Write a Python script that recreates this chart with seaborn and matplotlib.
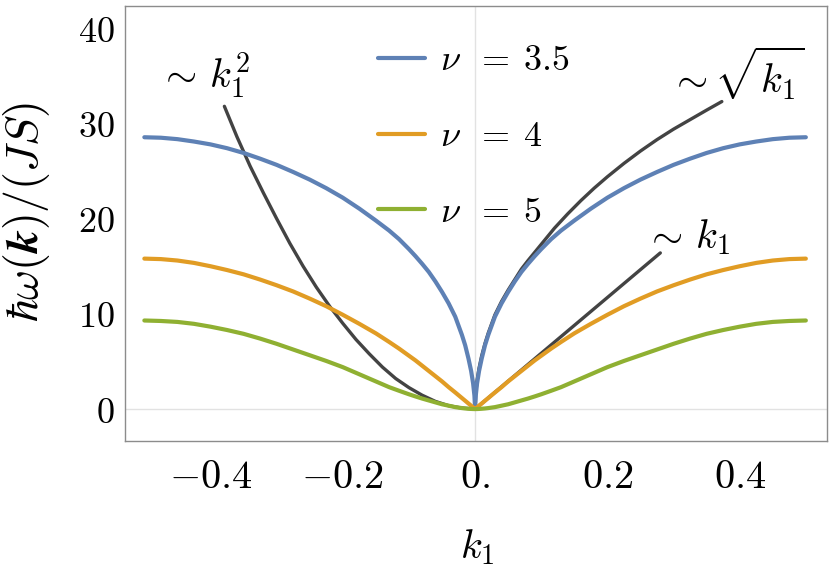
import numpy as np
import pandas as pd
import matplotlib
matplotlib.use("Agg")
import matplotlib.pyplot as plt
import seaborn as sns

# ---------------- data (curves are symmetric in k1) ----------------
k_half = [0.0, 0.001, 0.003, 0.006, 0.01, 0.015, 0.02, 0.03, 0.04, 0.05, 0.06, 0.07,
          0.08, 0.09, 0.1, 0.115, 0.13, 0.15, 0.175, 0.2, 0.225, 0.25, 0.275, 0.3,
          0.325, 0.35, 0.375, 0.4, 0.425, 0.45, 0.475, 0.5]

omega_nu35 = [0.0, 1.4, 2.7, 4.0, 5.3, 6.7, 7.8, 9.7, 11.1, 12.3, 13.4, 14.4,
              15.25, 16.05, 16.8, 17.85, 18.75, 19.8, 21.05, 22.2, 23.2, 24.1, 24.9, 25.65,
              26.3, 26.9, 27.4, 27.8, 28.1, 28.35, 28.5, 28.55]

omega_nu4 = [0.0, 0.06, 0.17, 0.35, 0.58, 0.87, 1.16, 1.74, 2.3, 2.9, 3.45, 4.0,
             4.55, 5.1, 5.6, 6.35, 7.05, 7.95, 8.95, 9.9, 10.8, 11.6, 12.35, 13.0,
             13.6, 14.15, 14.6, 15.0, 15.35, 15.6, 15.75, 15.8]

omega_nu5 = [0.0, 0.0, 0.0, 0.01, 0.03, 0.06, 0.1, 0.2, 0.35, 0.5, 0.7, 0.9,
             1.1, 1.32, 1.55, 1.92, 2.3, 2.9, 3.65, 4.4, 5.05, 5.65, 6.25, 6.85,
             7.4, 7.9, 8.3, 8.65, 8.95, 9.15, 9.25, 9.3]

series_labels = [r"$\nu\;\;=\:3.5$", r"$\nu\;\;=\:4$", r"$\nu\;\;=\:5$"]
series_colors = ["#5E81B5", "#E19C24", "#8FB032"]

# asymptotic guide curves
quad_k = [-0.379, -0.36, -0.34, -0.32, -0.3, -0.28, -0.26, -0.24, -0.22, -0.2, -0.18,
          -0.16, -0.14, -0.12, -0.1, -0.08, -0.06, -0.04, -0.02, 0.0]
quad_w = [31.8, 28.6, 25.5, 22.7, 20.0, 17.4, 15.0, 12.8, 10.8, 9.0, 7.3,
          5.8, 4.4, 3.2, 2.25, 1.45, 0.8, 0.35, 0.1, 0.0]

sqrt_k = [0.0, 0.001, 0.003, 0.006, 0.01, 0.015, 0.02, 0.03, 0.04, 0.05, 0.06, 0.07,
          0.08, 0.1, 0.12, 0.14, 0.16, 0.18, 0.2, 0.225, 0.25, 0.275, 0.3, 0.325,
          0.35, 0.373]
sqrt_w = [0.0, 1.7, 3.0, 4.3, 5.6, 6.9, 8.0, 9.9, 11.3, 12.5, 13.6, 14.7,
          15.6, 17.3, 19.0, 20.5, 21.9, 23.2, 24.4, 25.8, 27.1, 28.3, 29.4, 30.4,
          31.4, 32.3]

lin_k = [0.0, 0.28]
lin_w = [0.0, 16.4]

x_ticks = [-0.4, -0.2, 0.0, 0.2, 0.4]
x_ticklabels = [r"$-0.4$", r"$-0.2$", r"$0.$", r"$0.2$", r"$0.4$"]
y_ticks = [0, 10, 20, 30, 40]
y_ticklabels = [r"$0$", r"$10$", r"$20$", r"$30$", r"$40$"]

# long-form table for the three dispersion curves
rows = []
for vals, lab in zip([omega_nu35, omega_nu4, omega_nu5], series_labels):
    kk = [-v for v in k_half[::-1]] + k_half[1:]
    ww = vals[::-1] + vals[1:]
    for a, b in zip(kk, ww):
        rows.append({"k": a, "omega": b, "nu": lab})
df = pd.DataFrame(rows)

# ---------------- style ----------------
sns.set_style("white")
plt.rcParams["mathtext.fontset"] = "cm"
plt.rcParams["font.family"] = ["DejaVu Serif"]
plt.rcParams["text.color"] = "black"
plt.rcParams["axes.labelcolor"] = "black"

fig = plt.figure(figsize=(8.3, 5.78), dpi=100)
ax = fig.add_axes([0.15, 0.2375, 0.8464, 0.7515])

frame_col = "#8c8c8c"
ax.axhline(0, color="#e2e2e2", lw=1.0, zorder=0)
ax.axvline(0, color="#e2e2e2", lw=1.0, zorder=0)

black = "#434343"
for xs, ys in [(quad_k, quad_w), (sqrt_k, sqrt_w), (lin_k, lin_w)]:
    sns.lineplot(x=xs, y=ys, ax=ax, color=black, lw=2.4, sort=False,
                 estimator=None, errorbar=None, zorder=2)

sns.lineplot(data=df, x="k", y="omega", hue="nu", palette=series_colors,
             hue_order=series_labels, lw=3.0, sort=False, estimator=None,
             errorbar=None, ax=ax, zorder=3)

ax.set_xlim(-0.53, 0.532)
ax.set_ylim(-3.33, 42.3)
ax.set_xticks(x_ticks)
ax.set_xticklabels(x_ticklabels, fontsize=29)
ax.set_yticks(y_ticks)
ax.set_yticklabels(y_ticklabels, fontsize=26)
ax.tick_params(axis="x", direction="in", length=6, width=1, color=frame_col,
               labelcolor="black", pad=13)
ax.tick_params(axis="y", direction="in", length=6, width=1, color=frame_col,
               labelcolor="black", pad=7)
for s in ax.spines.values():
    s.set_color(frame_col)
    s.set_linewidth(1.0)

ax.set_xlabel(r"$k_1$", fontsize=29)
ax.xaxis.set_label_coords(0.503, -0.20)
ax.set_ylabel(r"$\hbar\omega(\mathbfit{k})/(JS)$", fontsize=33)
ax.yaxis.set_label_coords(-0.103, 0.525)

ax.text(-0.41, 35.0, r"$\sim\, k_1^2$", fontsize=29, ha="center", va="center")
ax.text(0.395, 35.3, r"$\sim \sqrt{k_1}$", fontsize=29, ha="center", va="center")
ax.text(0.3205, 18.1, r"$\sim\, k_1$", fontsize=29, ha="center", va="center")

handles, labels = ax.get_legend_handles_labels()
ax.legend(handles, labels, loc="upper left", bbox_to_anchor=(0.361, 0.915), frameon=False,
          fontsize=26, handlelength=1.3, handletextpad=0.42, labelspacing=1.16,
          borderpad=0, borderaxespad=0)

fig.savefig("out.png", dpi=100)
